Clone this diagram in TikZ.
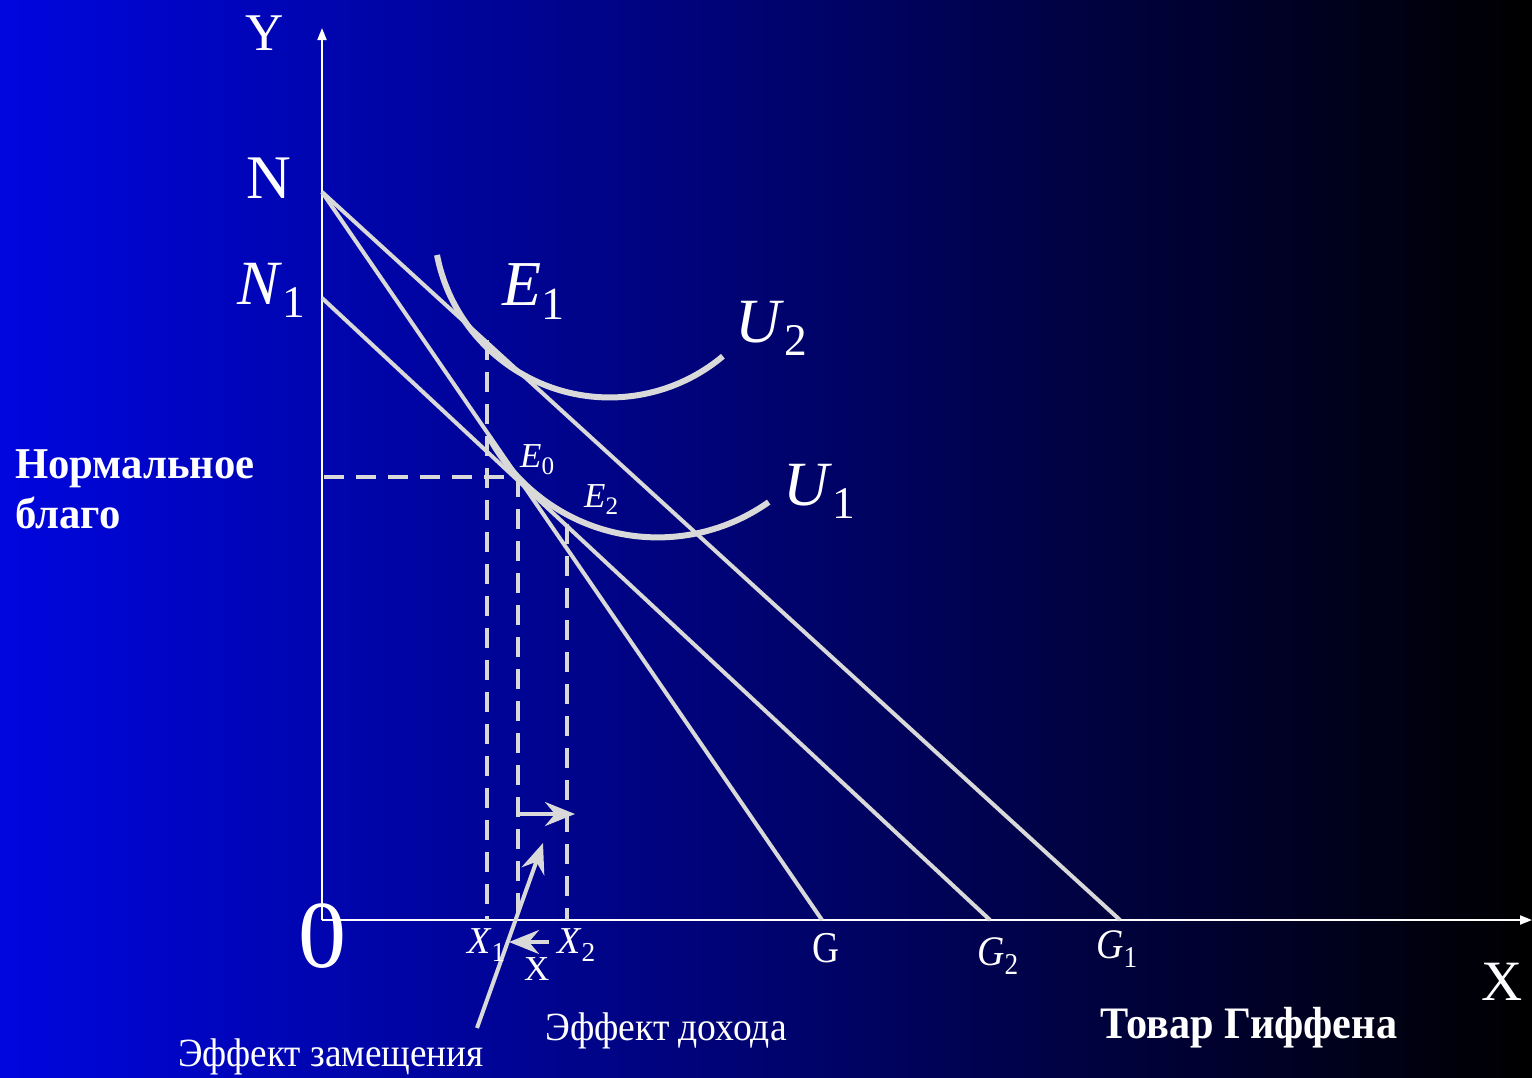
\documentclass[tikz,border=0pt]{standalone}
\usepackage{fontspec}
\setmainfont{Liberation Serif}
\usepackage{graphicx}
\usetikzlibrary{arrows.meta}
\definecolor{bgblue}{RGB}{0,6,222}
\definecolor{lgray}{RGB}{217,217,217}
\newcommand\sbs[1]{\raisebox{-0.22em}{\scalebox{0.72}{\upshape #1}}}
\newcommand\fs[1]{\fontsize{#1}{#1}\selectfont}
\newcommand\narrow[2]{\scalebox{#1}[1]{#2}}
\begin{document}
\begin{tikzpicture}[x=1pt,y=-1pt,
  budget/.style={lgray,line width=4pt},
  indiff/.style={lgray,line width=6pt},
  axis/.style={white,line width=2pt,-{Triangle[length=12pt,width=9pt]}},
  guide/.style={lgray,line width=4pt,dash pattern=on 20pt off 12pt},
  effarrow/.style={lgray,line width=4pt,-{Stealth[length=30pt,width=24pt,inset=10pt]}},
  lbl/.style={text=white,inner sep=0pt,anchor=base west},
]
\shade[left color=bgblue,right color=black] (0,0) rectangle (1532,1077);
\useasboundingbox (0,0) rectangle (1532,1077);
% coordinates
\coordinate (O) at (322,920);
\coordinate (Ytop) at (322,28);
\coordinate (Xend) at (1532,920);
\coordinate (N) at (322,192);
\coordinate (N1) at (322,298);
\coordinate (G) at (822,920);
\coordinate (G1) at (1120,920);
\coordinate (G2) at (990,920);
\coordinate (E1) at (487,340);
\coordinate (E0) at (518,477);
\coordinate (E2) at (567,524);
\coordinate (X1f) at (487,920);
\coordinate (X0f) at (518,920);
\coordinate (X2f) at (567,920);
\coordinate (Yh) at (324,477);
\coordinate (U2s) at (437,255);
\coordinate (U1s) at (489,437);
% axes
\draw[axis] (O) -- (Ytop);
\draw[axis] (O) -- (Xend);
% guides
\draw[guide] (E1) -- (X1f);
\draw[guide] (E0) -- (X0f);
\draw[guide] (E2) -- (X2f);
\draw[guide] (Yh) -- (E0);
% budget lines
\draw[budget] (N) -- (G1);
\draw[budget] (N) -- (G);
\draw[budget] (N1) -- (G2);
% indifference curves
\draw[indiff] (U2s) arc[start angle=169,end angle=50,radius=176];
\draw[indiff] (U1s) arc[start angle=151.5,end angle=54.7,radius=192];
% effect arrows
\coordinate (ra1) at (518,814);
\coordinate (ra2) at (575,814);
\coordinate (la1) at (549,942);
\coordinate (la2) at (509,942);
\coordinate (sa1) at (477,1028);
\coordinate (sa2) at (543,843);
\draw[effarrow] (ra1) -- (ra2);
\draw[effarrow] (la1) -- (la2);
\draw[effarrow] (sa1) -- (sa2);
% labels
\node[lbl,font=\fs{53}] (ylab) at (245,50) {Y};
\node[lbl,font=\fs{62}] (nlab) at (246,198) {N};
\node[lbl,font=\fs{63}] (n1lab) at (237,304) {\textit{N}\sbs{1}};
\node[lbl,font=\fs{64}] (e1lab) at (502,305) {\textit{E}\sbs{1}};
\node[lbl,font=\fs{63}] (u2lab) at (735,342) {\textit{U}\sbs{2}};
\node[lbl,font=\fs{63}] (u1lab) at (783,505) {\textit{U}\sbs{1}};
\node[lbl,font=\fs{35}] (e0lab) at (520,467) {\textit{E}\sbs{0}};
\node[lbl,font=\fs{35}] (e2lab) at (584,507) {\textit{E}\sbs{2}};
\node[lbl,font=\bfseries\fs{44}] (norm1) at (15,478) {\narrow{0.97}{Нормальное}};
\node[lbl,font=\bfseries\fs{44}] (norm2) at (15,528) {\narrow{0.97}{благо}};
\node[lbl,font=\fs{96},anchor=base] (olab) at (322,967) {0};
\node[lbl,font=\fs{38}] (x1lab) at (467,953) {\textit{X}\sbs{1}};
\node[lbl,font=\fs{38}] (x2lab) at (557,953) {\textit{X}\sbs{2}};
\node[lbl,font=\fs{35}] (xlab) at (524,980) {X};
\node[lbl,font=\fs{44}] (glab) at (812,962) {\narrow{0.85}{G}};
\node[lbl,font=\fs{42}] (g2lab) at (977,965) {\narrow{0.9}{\textit{G}\sbs{2}}};
\node[lbl,font=\fs{42}] (g1lab) at (1096,958) {\narrow{0.9}{\textit{G}\sbs{1}}};
\node[lbl,font=\fs{57}] (xbig) at (1481,1000) {X};
\node[lbl,font=\bfseries\fs{45}] (giff) at (1100,1038) {\narrow{0.94}{Товар Гиффена}};
\node[lbl,font=\fs{40}] (income) at (545,1040) {\narrow{0.94}{Эффект дохода}};
\node[lbl,font=\fs{40}] (subst) at (178,1066) {\narrow{0.93}{Эффект замещения}};
\end{tikzpicture}
\end{document}
